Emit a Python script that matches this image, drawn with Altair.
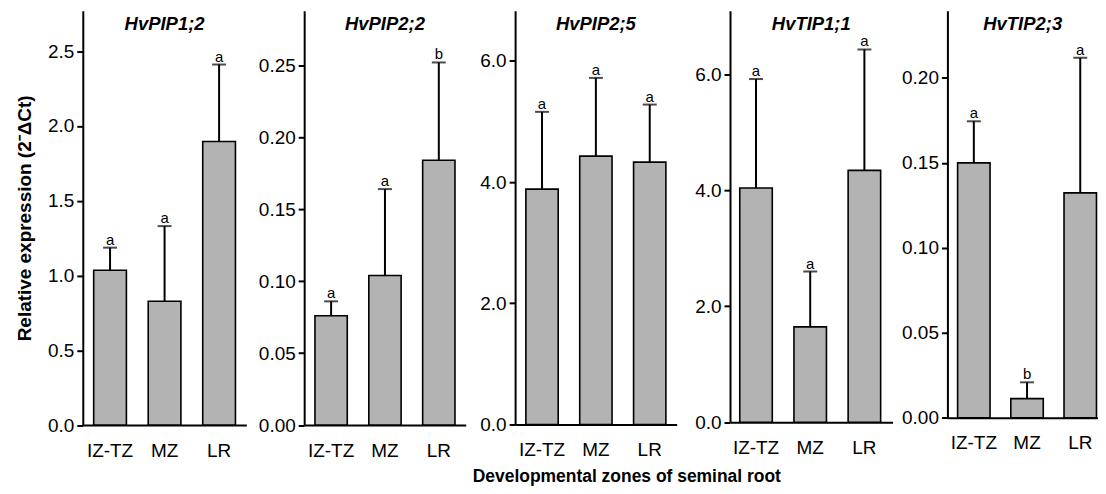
import altair as alt
import pandas as pd

# ---- data ----
zones = ["IZ-TZ", "MZ", "LR"]
genes = ["HvPIP1;2", "HvPIP2;2", "HvPIP2;5", "HvTIP1;1", "HvTIP2;3"]

mean_pip12 = [1.035, 0.828, 1.895]
se_pip12 = [0.151, 0.502, 0.515]
mean_pip22 = [0.076, 0.104, 0.184]
se_pip22 = [0.010, 0.060, 0.068]
mean_pip25 = [3.885, 4.43, 4.33]
se_pip25 = [1.275, 1.29, 0.95]
mean_tip11 = [4.04, 1.645, 4.345]
se_tip11 = [1.88, 0.955, 2.085]
mean_tip23 = [0.150, 0.0113, 0.1324]
se_tip23 = [0.0245, 0.0096, 0.0795]

letters_pip12 = ["a", "a", "a"]
letters_pip22 = ["a", "a", "b"]
letters_pip25 = ["a", "a", "a"]
letters_tip11 = ["a", "a", "a"]
letters_tip23 = ["a", "b", "a"]

y_max = [2.77, 0.288, 6.83, 7.1, 0.2396]
y_ticks = [
    [0.0, 0.5, 1.0, 1.5, 2.0, 2.5],
    [0.0, 0.05, 0.10, 0.15, 0.20, 0.25],
    [0.0, 2.0, 4.0, 6.0],
    [0.0, 2.0, 4.0, 6.0],
    [0.0, 0.05, 0.10, 0.15, 0.20],
]
y_formats = [".1f", ".2f", ".1f", ".1f", ".2f"]

means = [mean_pip12, mean_pip22, mean_pip25, mean_tip11, mean_tip23]
ses = [se_pip12, se_pip22, se_pip25, se_tip11, se_tip23]
letters = [letters_pip12, letters_pip22, letters_pip25, letters_tip11, letters_tip23]

# ---- layout (pixels) ----
panel_w = [164, 162, 162, 163, 151]
panel_h = [415.6, 415.6, 415, 412.7, 408.3]
gaps = [12, 13.5, 17.5, 9]  # spacing between neighbouring panels
band_pad = [
    (0.4, 0.2, 0.5),
    (0.4, 0.2, 0.5),
    (0.4, 0.2, 0.5),
    (0.4, 0.2, 0.45),
    (0.39, 0.11, 0.87),
]

FONT = "Liberation Sans"


def panel(i):
    df = pd.DataFrame({
        "zone": zones,
        "mean": means[i],
        "se": ses[i],
        "letter": letters[i],
    })
    base = alt.Chart(df).transform_calculate(upper="datum.mean + datum.se")
    pi, po, al = band_pad[i]
    x = alt.X(
        "zone:N",
        sort=zones,
        scale=alt.Scale(paddingInner=pi, paddingOuter=po, align=al),
        axis=alt.Axis(title=None, labelAngle=0, ticks=False, labelPadding=16),
    )
    yaxis_kwargs = dict(
        values=y_ticks[i],
        format=y_formats[i],
        tickSize=6,
        labelPadding=3,
    )
    if i == 0:
        yaxis_kwargs.update(
            title="Relative expression (2⁻ΔCt)",
            titleFontSize=19,
            titleFontWeight="bold",
            titleFont=FONT,
            titleColor="black",
            titlePadding=8,
            minExtent=40,
        )
    else:
        yaxis_kwargs.update(title=None)
    y = alt.Y(
        "mean:Q",
        scale=alt.Scale(domain=[0, y_max[i]], nice=False, zero=True),
        axis=alt.Axis(**yaxis_kwargs),
    )
    bars = base.mark_bar(fill="#b3b3b3", stroke="black", strokeWidth=1.6).encode(x=x, y=y)
    rule = base.mark_rule(color="black", strokeWidth=2).encode(
        x=alt.X("zone:N", sort=zones), y="upper:Q", y2="mean:Q"
    )
    cap = base.mark_tick(color="black", thickness=2, size=14).encode(
        x=alt.X("zone:N", sort=zones), y="upper:Q"
    )
    txt = base.mark_text(
        baseline="alphabetic", dy=-3, fontSize=15, font=FONT, color="black"
    ).encode(x=alt.X("zone:N", sort=zones), y="upper:Q", text="letter:N")
    return alt.layer(bars, rule, cap, txt).properties(
        width=panel_w[i],
        height=panel_h[i],
        title=alt.TitleParams(
            genes[i],
            font=FONT,
            fontSize=18.5,
            fontWeight="bold",
            fontStyle="italic",
            color="black",
            anchor="middle",
            frame="group",
            baseline="alphabetic",
            offset=-38,
        ),
    )


panels = [panel(i) for i in range(5)]
# nest the concatenations so that each gap can have its own spacing
row = panels[4]
for k in range(3, -1, -1):
    row = alt.hconcat(panels[k], row, spacing=gaps[k])

chart = row.properties(
    title=alt.TitleParams(
        "Developmental zones of seminal root",
        orient="bottom",
        anchor="middle",
        font=FONT,
        fontSize=17.5,
        fontWeight="bold",
        color="black",
        dx=70,
        offset=8,
    ),
    padding={"left": 8, "top": 2, "right": 0, "bottom": 0},
).configure_view(stroke=None).configure_axis(
    domainColor="black",
    domainWidth=2,
    tickColor="black",
    tickWidth=2,
    labelColor="black",
    labelFont=FONT,
    labelFontSize=19,
    grid=False,
)

chart.save("out.html", embed_options={"renderer": "svg", "actions": False})
